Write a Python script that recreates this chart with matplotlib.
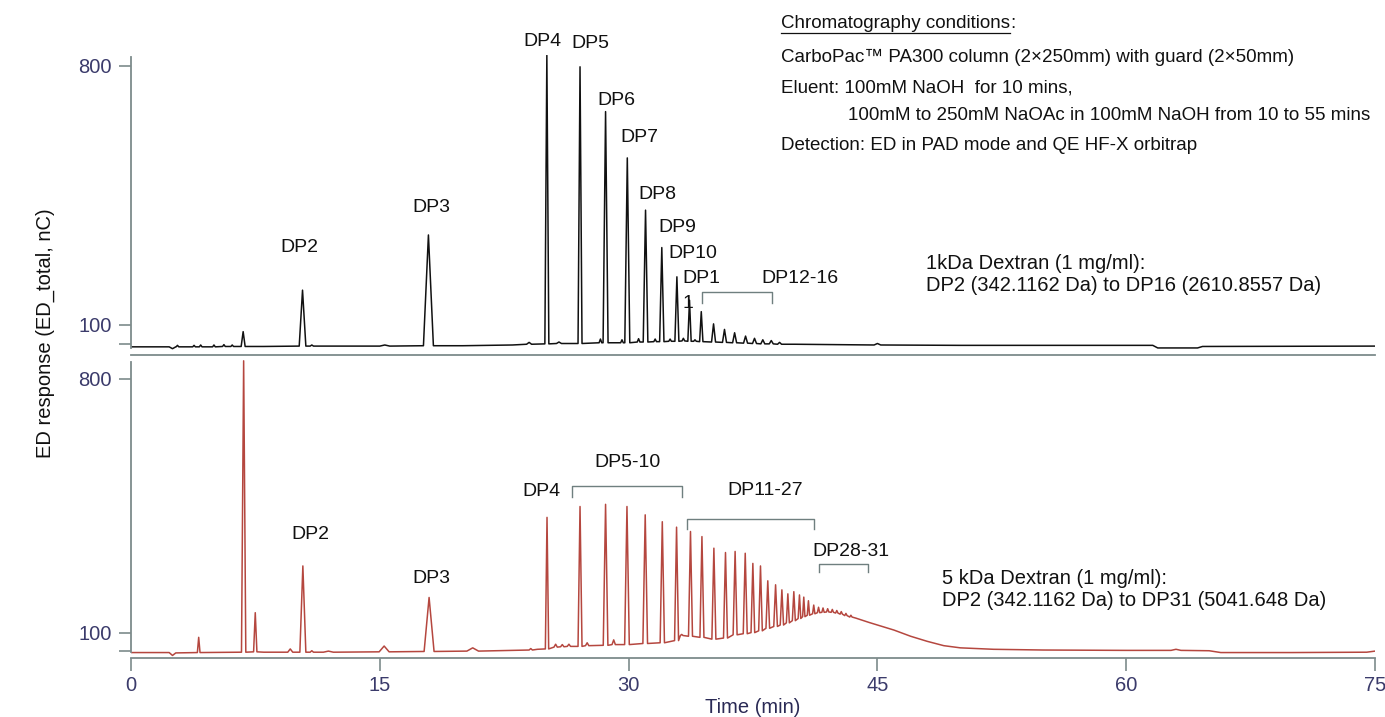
import numpy as np
import matplotlib.pyplot as plt

plt.rcParams['font.family'] = ['Liberation Sans', 'DejaVu Sans']

# ---- 1 kDa dextran (top trace), peaks ----
rt_1k = [2.8, 3.8, 4.2, 5.0, 5.6, 6.1, 6.76, 10.34, 10.9, 15.3, 17.93, 24.0, 25.07, 25.8,
         27.07, 28.3, 28.61, 29.6, 29.92, 30.6, 31.02, 31.6, 32.0, 32.5, 32.91, 33.3,
         33.67, 34.0, 34.38, 35.12, 35.78, 36.39, 37.05, 37.59, 38.09, 38.6, 39.1, 45.0]
height_1k = [45, 45, 46, 46, 47, 46, 82, 194, 46, 46, 343, 53, 828, 54,
             797, 62, 676, 60, 551, 63, 410, 62, 309, 62, 230, 64,
             167, 60, 136, 103, 88, 79, 70, 64, 60, 58, 53, 50]
halfw_1k = [0.08, 0.08, 0.08, 0.08, 0.08, 0.08, 0.12, 0.2, 0.1, 0.3, 0.3, 0.15, 0.12, 0.15,
            0.12, 0.08, 0.15, 0.08, 0.15, 0.08, 0.14, 0.08, 0.13, 0.08, 0.12, 0.08,
            0.1, 0.08, 0.1, 0.12, 0.12, 0.12, 0.12, 0.12, 0.12, 0.12, 0.12, 0.2]
base_1k = [41, 41, 41, 41, 42, 42, 42, 43, 43, 43, 44, 48, 49, 50,
           50, 52, 52, 52, 52, 54, 54, 55, 55, 56, 56, 57,
           56, 56, 55, 54, 53, 52, 51, 50, 49, 49, 48, 46]
bl_t_1k = [0, 2.3, 2.5, 2.7, 8, 15, 20, 23, 24.8, 40, 45, 50, 61.6, 61.9, 64.3, 64.6, 75]
bl_v_1k = [41, 41, 36, 41, 42, 43, 44, 46, 49, 48, 46, 45, 45, 38, 38, 42, 43]

# ---- 5 kDa dextran (bottom trace) ----
rt_5k = [4.08, 6.79, 7.49, 9.6, 10.36, 10.9, 11.9, 15.26, 17.97, 20.6, 24.1, 25.08,
         25.6, 26.0, 26.4, 27.07, 27.5, 28.61, 29.1, 29.9, 31.0, 32.03, 32.89, 33.2,
         33.73, 34.42, 35.14, 35.84, 36.42, 37.03, 37.49, 37.95, 38.39, 38.86, 39.24,
         39.6, 39.96, 40.3, 40.56, 40.84, 41.16, 41.45, 41.72, 42.0, 42.28, 42.55,
         42.82, 43.1, 43.4, 63.0]
height_5k = [87, 850, 155, 55, 284, 50, 49, 63, 197, 58, 56, 418,
             68, 67, 68, 448, 72, 454, 80, 448, 425, 406, 391, 95,
             379, 365, 333, 321, 324, 319, 291, 284, 243, 232, 218,
             207, 213, 204, 198, 188, 176, 170, 168, 166, 164, 161,
             158, 153, 148, 54]
halfw_5k = [0.08, 0.13, 0.1, 0.15, 0.18, 0.1, 0.3, 0.3, 0.3, 0.35, 0.1, 0.1,
            0.1, 0.1, 0.1, 0.12, 0.1, 0.14, 0.1, 0.14, 0.14, 0.13, 0.12, 0.08,
            0.12, 0.12, 0.12, 0.12, 0.12, 0.12, 0.11, 0.11, 0.11, 0.11, 0.1,
            0.09, 0.09, 0.08, 0.07, 0.07, 0.07, 0.07, 0.07, 0.07, 0.07, 0.07,
            0.07, 0.07, 0.07, 0.3]
base_5k = [45, 46, 47, 46, 46, 46, 46, 47, 48, 49, 52, 55,
           60, 61, 62, 62, 64, 65, 67, 67, 70, 72, 78, 92,
           90, 87, 82, 85, 94, 97, 100, 105, 112, 117, 121,
           127, 133, 139, 144, 148, 152, 155, 156, 157, 156, 154,
           151, 147, 143, 51]
bl_t_5k = [0, 2.3, 2.5, 2.7, 8, 15, 22, 24.5, 43.7, 44.5, 45, 46, 47, 48, 49, 50,
           52, 55, 60, 65, 65.7, 70, 74.5, 75]
bl_v_5k = [45, 45, 37, 44, 46, 47, 50, 54, 140, 128, 121, 107, 90, 76, 64, 58,
           54, 52, 51, 50, 45, 45, 46, 49]

header = ["CarboPac\u2122 PA300 column (2\u00d7250mm) with guard (2\u00d750mm)",
          "Eluent: 100mM NaOH  for 10 mins,",
          "100mM to 250mM NaOAc in 100mM NaOH from 10 to 55 mins",
          "Detection: ED in PAD mode and QE HF-X orbitrap"]


def trace(rt, h, hw, base, bl_t, bl_v):
    pts = [(t, v) for t, v in zip(bl_t, bl_v)
           if all(abs(t - r) > w for r, w in zip(rt, hw))]
    for r, v, w, b in zip(rt, h, hw, base):
        pts += [(r - w, b), (r, v), (r + w, b)]
    pts.sort()
    return np.array(pts).T


axis_col = '#7d8b8b'
tick_col = '#3b3b6b'

fig = plt.figure(figsize=(13.85, 7.17), dpi=100)
ax1 = fig.add_axes([0.0946, 0.5049, 0.8982, 0.419])
ax2 = fig.add_axes([0.0946, 0.0823, 0.8982, 0.417])

x1, y1 = trace(rt_1k, height_1k, halfw_1k, base_1k, bl_t_1k, bl_v_1k)
x2, y2 = trace(rt_5k, height_5k, halfw_5k, base_5k, bl_t_5k, bl_v_5k)
ax1.plot(x1, y1, color='#111111', lw=1.1)
ax2.plot(x2, y2, color='#b5473f', lw=1.1)

ax1.set_ylim(19, 830)
ax2.set_ylim(30, 855)
for ax in (ax1, ax2):
    ax.set_xlim(0, 75)
    ax.spines['top'].set_visible(False)
    ax.spines['right'].set_visible(False)
    for s in ('left', 'bottom'):
        ax.spines[s].set_color(axis_col)
        ax.spines[s].set_linewidth(1.3)
    ax.set_yticks([50, 100, 800])
    ax.set_yticklabels(['', '100', '800'])
    ax.tick_params(axis='y', direction='out', length=9, width=1.2, color=axis_col,
                   labelcolor=tick_col, labelsize=14.5, pad=5)
ax1.spines['left'].set_bounds(38, 823)
ax2.spines['left'].set_bounds(47, 848)
ax1.set_xticks([])
ax2.set_xticks([0, 15, 30, 45, 60, 75])
ax2.tick_params(axis='x', direction='out', length=9, width=1.2, color=axis_col,
                labelcolor=tick_col, labelsize=14.5, pad=4)

# peak labels, top
lab = dict(ha='center', va='center', fontsize=14, color='#111111')
for txt, t, v in [('DP2', 10.12, 308), ('DP3', 18.13, 416), ('DP4', 24.79, 865),
                  ('DP5', 27.71, 860), ('DP6', 29.25, 707), ('DP7', 30.63, 605),
                  ('DP8', 31.72, 451), ('DP9', 32.92, 362), ('DP10', 33.86, 294),
                  ('DP1', 34.38, 226), ('1', 33.57, 158), ('DP12-16', 40.3, 226)]:
    ax1.text(t, v, txt, clip_on=False, **lab)
ax1.plot([34.44, 34.44, 38.66, 38.66], [160, 190, 190, 160], color='#6f7f7f', lw=1)
ax1.text(47.9, 236, "1kDa Dextran (1 mg/ml):\nDP2 (342.1162 Da) to DP16 (2610.8557 Da)",
         ha='left', va='center', fontsize=14.5, linespacing=1.2, color='#111111')

# peak labels, bottom
for txt, t, v in [('DP2', 10.84, 371), ('DP3', 18.13, 248), ('DP4', 24.76, 489),
                  ('DP5-10', 29.94, 569), ('DP11-27', 38.25, 492), ('DP28-31', 43.4, 325)]:
    ax2.text(t, v, txt, **lab)
for a, b, top, leg in [(26.6, 33.23, 505, 474), (33.5, 41.2, 413, 385),
                       (41.47, 44.42, 290, 266)]:
    ax2.plot([a, a, b, b], [leg, top, top, leg], color='#6f7f7f', lw=1)
ax2.text(48.9, 220, "5 kDa Dextran (1 mg/ml):\nDP2 (342.1162 Da) to DP31 (5041.648 Da)",
         ha='left', va='center', fontsize=14.5, linespacing=1.2, color='#111111')

ax2.set_xlabel('Time (min)', fontsize=14.5, color='#2a2a55', labelpad=2)
fig.text(0.033, 0.535, 'ED response (ED_total, nC)', rotation=90, ha='center',
         va='center', fontsize=14.5, color='#111111')

# chromatography conditions block
hx = 781 / 1385
t0 = fig.text(hx, 1 - 23 / 717, 'Chromatography conditions', fontsize=13.5,
              ha='left', va='center', color='#111111')
fig.canvas.draw()
bb = t0.get_window_extent()
fig.text(bb.x1 / fig.bbox.width, 1 - 23 / 717, ':', fontsize=13.5, ha='left',
         va='center', color='#111111')
fig.add_artist(plt.Line2D([bb.x0 / fig.bbox.width, bb.x1 / fig.bbox.width],
                          [(bb.y0 - 1) / fig.bbox.height] * 2,
                          transform=fig.transFigure, color='#111111', lw=0.9))
for i, line in enumerate(header):
    xx = 848 / 1385 if i == 2 else hx
    fig.text(xx, 1 - [57, 88, 116, 145][i] / 717, line, fontsize=13.5, ha='left',
             va='center', color='#111111')

fig.savefig('out.png', dpi=100)
